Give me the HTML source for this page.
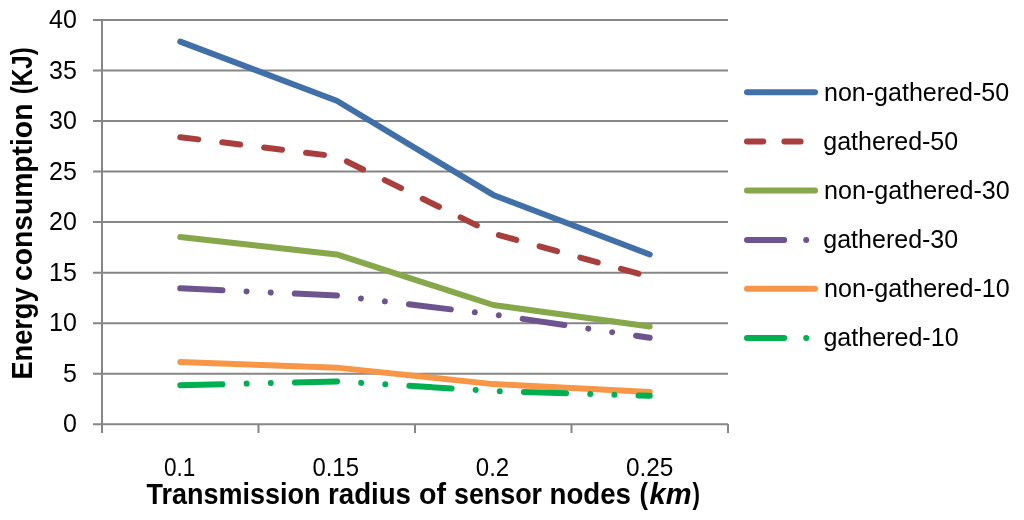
<!DOCTYPE html>
<html><head><meta charset="utf-8"><style>
html,body{margin:0;padding:0;background:#fff;width:1024px;height:520px;overflow:hidden}
svg{display:block}
text{font-family:"Liberation Sans",sans-serif;fill:#000}
.t{filter:grayscale(1)}
</style></head><body>
<svg width="1024" height="520" viewBox="0 0 1024 520">
<g stroke="#868686" stroke-width="2" fill="none">
<path d="M93 20.000H728M93 70.525H728M93 121.050H728M93 171.575H728M93 222.100H728M93 272.625H728M93 323.150H728M93 373.675H728M93 424.200H728"/>
<path d="M102 20.0V433M258.5 424V433M415 424V433M571.5 424V433M728 424V433"/>
</g>
<g class="t">
<text x="49.00" y="28.20" font-size="25">40</text>
<text x="49.00" y="78.70" font-size="25">35</text>
<text x="49.00" y="129.20" font-size="25">30</text>
<text x="49.00" y="179.70" font-size="25">25</text>
<text x="49.00" y="230.20" font-size="25">20</text>
<text x="49.00" y="280.70" font-size="25">15</text>
<text x="49.00" y="331.20" font-size="25">10</text>
<text x="62.90" y="381.70" font-size="25">5</text>
<text x="62.90" y="432.20" font-size="25">0</text>
<text x="163.95" y="475.50" font-size="25" textLength="31.40" lengthAdjust="spacingAndGlyphs">0.1</text>
<text x="312.40" y="475.50" font-size="25" textLength="46.60" lengthAdjust="spacingAndGlyphs">0.15</text>
<text x="475.85" y="475.50" font-size="25" textLength="33.40" lengthAdjust="spacingAndGlyphs">0.2</text>
<text x="625.90" y="475.50" font-size="25" textLength="47.50" lengthAdjust="spacingAndGlyphs">0.25</text>
<text x="146.50" y="503.80" font-size="29.4" font-weight="bold" textLength="174.00" lengthAdjust="spacingAndGlyphs">Transmission</text>
<text x="328.00" y="503.80" font-size="29.4" font-weight="bold" textLength="83.00" lengthAdjust="spacingAndGlyphs">radius</text>
<text x="419.00" y="503.80" font-size="29.4" font-weight="bold" textLength="27.00" lengthAdjust="spacingAndGlyphs">of</text>
<text x="454.00" y="503.80" font-size="29.4" font-weight="bold" textLength="88.00" lengthAdjust="spacingAndGlyphs">sensor</text>
<text x="549.50" y="503.80" font-size="29.4" font-weight="bold" textLength="81.50" lengthAdjust="spacingAndGlyphs">nodes</text>
<text x="639.50" y="503.80" font-size="29.4" font-weight="bold" textLength="8.50" lengthAdjust="spacingAndGlyphs">(</text>
<text x="649.50" y="503.80" font-size="29.4" font-weight="bold" font-style="italic" textLength="42.00" lengthAdjust="spacingAndGlyphs">km</text>
<text x="692.50" y="503.80" font-size="29.4" font-weight="bold" textLength="7.50" lengthAdjust="spacingAndGlyphs">)</text>

<text transform="translate(31.70,379.50) rotate(-90)" font-size="29.4" font-weight="bold" textLength="92.00" lengthAdjust="spacingAndGlyphs">Energy</text>
<text transform="translate(31.70,281.00) rotate(-90)" font-size="29.4" font-weight="bold" textLength="177.40" lengthAdjust="spacingAndGlyphs">consumption</text>
<text transform="translate(31.70,94.20) rotate(-90)" font-size="29.4" font-weight="bold" textLength="47.00" lengthAdjust="spacingAndGlyphs">(KJ)</text>

</g>
<g fill="none" stroke-width="6" stroke-linecap="round" stroke-linejoin="round">
<path stroke="#4170A8" d="M180.25 41.61L336.75 100.80L493.25 194.93L649.75 254.52"/>
<path stroke="#A83F3C" stroke-dasharray="18.105 24.140" d="M180.25 137.16L336.75 156.45L493.25 233.51L649.75 276.74"/>
<path stroke="#86A74A" d="M180.25 237.05L336.75 254.42L493.25 305.02L649.75 326.43"/>
<path stroke="#6D548F" stroke-dasharray="42.245 24.140 0.01 24.130 0.01 24.130" d="M180.25 288.36L336.75 295.53L493.25 314.52L649.75 337.75"/>
<path stroke="#F79646" d="M180.25 361.99L336.75 367.64L493.25 384.11L649.75 391.88"/>
<path stroke="#00B050" stroke-dasharray="42.245 24.140 0.01 24.130 0.01 24.130" d="M180.25 385.22L336.75 381.38L493.25 390.97L649.75 395.72"/>
</g>
<g fill="none" stroke-width="6" stroke-linecap="round">
<path stroke="#4170A8" d="M747 92.2H815"/>
<path stroke="#A83F3C" stroke-dasharray="16.2 21.2" d="M747 141.5H815"/>
<path stroke="#86A74A" d="M747 190.4H815"/>
<path stroke="#6D548F" stroke-dasharray="37.2 22 0.01 22 0.01 22" d="M747 239.9H815"/>
<path stroke="#F79646" d="M747 288.7H815"/>
<path stroke="#00B050" stroke-dasharray="37.2 22 0.01 22 0.01 22" d="M747 337.9H815"/>
</g>
<g class="t">
<text x="824.00" y="100.50" font-size="25" textLength="185.20" lengthAdjust="spacingAndGlyphs">non-gathered-50</text>
<text x="823.30" y="149.60" font-size="25" textLength="134.90" lengthAdjust="spacingAndGlyphs">gathered-50</text>
<text x="824.00" y="198.70" font-size="25" textLength="185.70" lengthAdjust="spacingAndGlyphs">non-gathered-30</text>
<text x="823.30" y="247.90" font-size="25" textLength="134.90" lengthAdjust="spacingAndGlyphs">gathered-30</text>
<text x="824.00" y="297.00" font-size="25" textLength="185.70" lengthAdjust="spacingAndGlyphs">non-gathered-10</text>
<text x="823.40" y="346.20" font-size="25" textLength="135.20" lengthAdjust="spacingAndGlyphs">gathered-10</text>
</g>
</svg>
</body></html>
